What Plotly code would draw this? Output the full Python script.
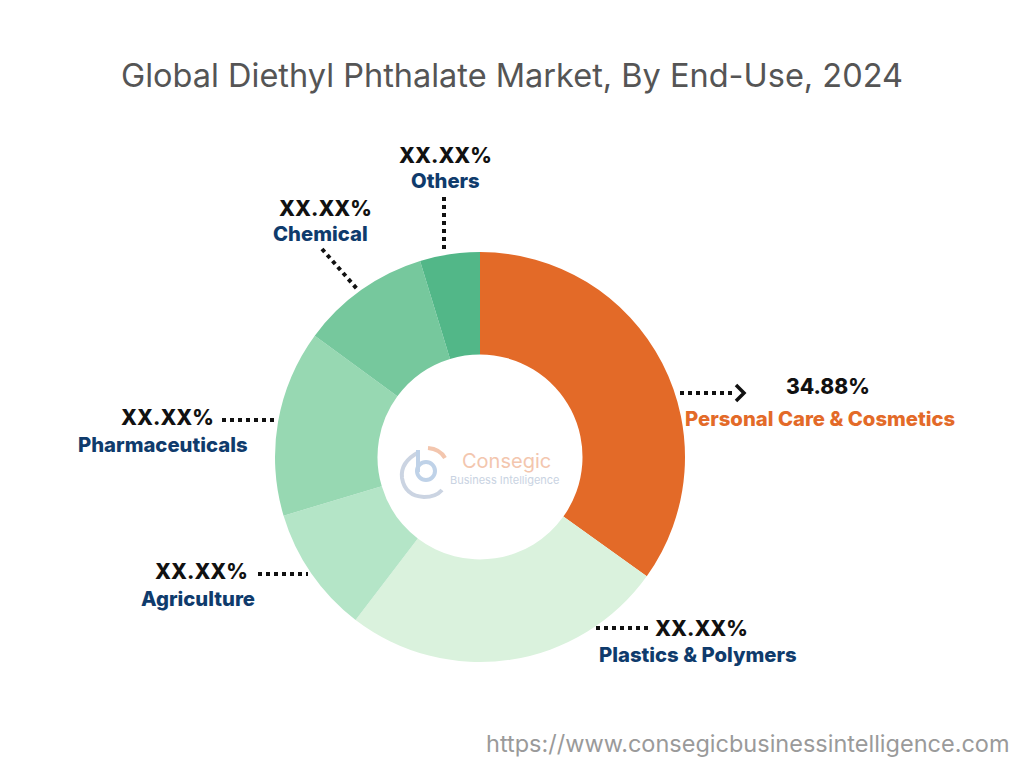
import plotly.graph_objects as go

categories = ["Personal Care & Cosmetics", "Plastics & Polymers", "Agriculture",
              "Pharmaceuticals", "Chemical", "Others"]
shares = [34.88, 25.5, 10.0, 14.7, 10.2, 4.72]
value_labels = ["34.88%", "XX.XX%", "XX.XX%", "XX.XX%", "XX.XX%", "XX.XX%"]
colors = ["#E36A28", "#DAF2DD", "#B4E5C7", "#97D8B2", "#76C89D", "#52B788"]

W, H = 1024, 768
OFF = 8  # page body margin offset

def px(x):
    return (x - OFF) / W

def py(y):
    return 1 - (y - OFF) / H

fig = go.Figure()
fig.add_trace(go.Pie(
    labels=categories, values=shares, hole=0.5, sort=False, direction="clockwise",
    rotation=0, marker=dict(colors=colors, line=dict(width=0)),
    textinfo="none", hoverinfo="label+percent", showlegend=False,
    domain=dict(x=[px(275), px(685)], y=[py(662), py(252)]),
))

navy = "#0F3B6C"
label_font = "Inter, Roboto, Arial, sans-serif"

# (value x, value y, name x, name y, name color)
label_pos = [
    (828, 387, 820, 418, "#E36A28"),
    (701, 628, 698, 654, navy),
    (201, 571, 198, 598, navy),
    (167, 417, 163, 444, navy),
    (325, 208, 320, 234, navy),
    (445, 155, 445, 181, navy),
]

annotations = []
for cat, val, (vx, vy, nx, ny, nc) in zip(categories, value_labels, label_pos):
    annotations.append(dict(x=px(vx), y=py(vy), xref="paper", yref="paper", showarrow=False,
                            text=val, font=dict(family=label_font, size=21, color="#111111", weight=800),
                            xanchor="center", yanchor="middle"))
    annotations.append(dict(x=px(nx), y=py(ny), xref="paper", yref="paper", showarrow=False,
                            text=cat, font=dict(family=label_font, size=20.3, color=nc, weight=800),
                            xanchor="center", yanchor="middle"))

# Title
annotations.append(dict(x=px(512), y=py(76), xref="paper", yref="paper", showarrow=False,
                        text="Global Diethyl Phthalate Market, By End-Use, 2024",
                        font=dict(family="Inter, Open Sans, sans-serif", size=32.5, color="#555555"),
                        xanchor="center", yanchor="middle"))
# URL
annotations.append(dict(x=px(1012), y=py(743), xref="paper", yref="paper", showarrow=False,
                        text="https://www.consegicbusinessintelligence.com",
                        font=dict(family="Inter, Open Sans, sans-serif", size=23.5, color="#9A9A9A"),
                        xanchor="right", yanchor="middle"))
# Logo text
annotations.append(dict(x=px(460), y=py(461), xref="paper", yref="paper", showarrow=False,
                        text="Consegic", font=dict(family="Inter, sans-serif", size=20, color="#F3C6AE"),
                        xanchor="left", yanchor="middle"))
annotations.append(dict(x=px(448), y=py(480), xref="paper", yref="paper", showarrow=False,
                        text="Business Intelligence", font=dict(family="Inter, sans-serif", size=11, color="#C9D3E2"),
                        xanchor="left", yanchor="middle"))

shapes = []
dot = dict(color="#111111", width=4, dash="dot")
lines = [
    (680, 393, 734, 393),
    (596, 628, 650, 628),
    (258, 574, 308, 574),
    (222, 420, 275, 420),
    (322, 249, 358, 290),
    (444, 197, 444, 250),
]
for x0, y0, x1, y1 in lines:
    shapes.append(dict(type="line", xref="paper", yref="paper",
                       x0=px(x0), y0=py(y0), x1=px(x1), y1=py(y1), line=dot))
# arrow chevron
shapes.append(dict(type="path", xref="paper", yref="paper",
                   path=f"M {px(736)} {py(385)} L {px(744)} {py(393)} L {px(736)} {py(401)}",
                   line=dict(color="#111111", width=3.5)))

# logo mark (simplified), axis coords in page pixels
o = OFF
shapes.append(dict(type="path", xref="x", yref="y",
                   path=f"M {419-o} {452-o} Q {400-o} {462-o} {402-o} {478-o} Q {405-o} {496-o} {424-o} {497-o} Q {436-o} {497-o} {442-o} {490-o}",
                   line=dict(color="#CBD4E2", width=4)))
shapes.append(dict(type="circle", xref="x", yref="y", x0=417-o, y0=462-o, x1=435-o, y1=480-o,
                   line=dict(color="#BFD2E8", width=4)))
shapes.append(dict(type="line", xref="x", yref="y", x0=418-o, y0=450-o, x1=418-o, y1=472-o,
                   line=dict(color="#BFD2E8", width=4)))
shapes.append(dict(type="path", xref="x", yref="y",
                   path=f"M {428-o} {448-o} Q {440-o} {449-o} {445-o} {458-o}",
                   line=dict(color="#F3C6AE", width=4)))

fig.update_layout(
    width=W, height=H, margin=dict(l=0, r=0, t=0, b=0),
    paper_bgcolor="white", plot_bgcolor="rgba(0,0,0,0)",
    annotations=annotations, shapes=shapes,
    xaxis=dict(range=[0, W], visible=False, fixedrange=True),
    yaxis=dict(range=[H, 0], visible=False, fixedrange=True),
)

fig.write_html("out.html")
